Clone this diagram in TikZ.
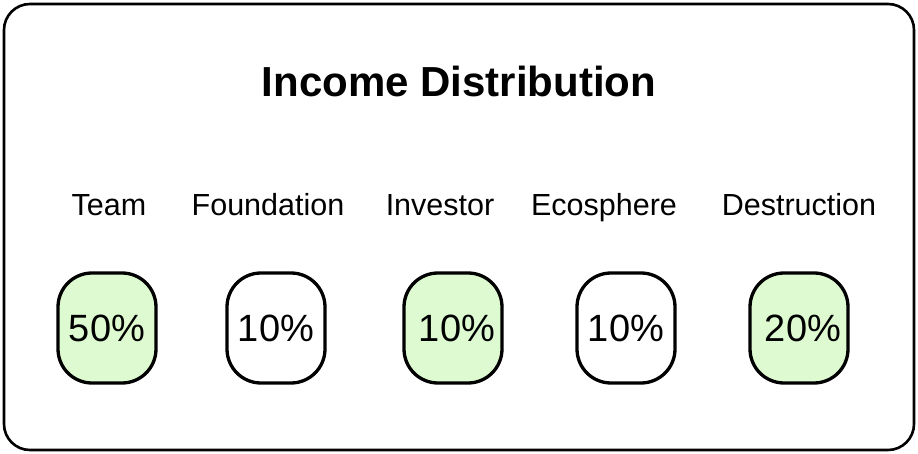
\documentclass[tikz,border=0pt]{standalone}
\usepackage{fontspec}
\setmainfont{Liberation Sans}
\usetikzlibrary{positioning}
\definecolor{sharegreen}{HTML}{DDFAD1}

\tikzset{
	share/.style={draw=black,line width=3.3pt,rounded corners=34pt,
		minimum width=98pt,minimum height=110pt,inner sep=0pt,
		font=\fontsize{38}{42}\selectfont},
	greenshare/.style={share,fill=sharegreen},
	whiteshare/.style={share,fill=white},
	tag/.style={anchor=base,inner sep=0pt,font=\fontsize{30.5}{34}\selectfont},
}

\begin{document}
\begin{tikzpicture}[x=1pt,y=-1pt]
	\useasboundingbox (0,0) rectangle (918,454);

	% frame
	\draw[line width=2.6pt,rounded corners=26pt] (4,4) rectangle (914,450);

	\node[inner sep=0pt,font=\bfseries\fontsize{42}{46}\selectfont] (title) at (459,81) {Income Distribution};

	% shares
	\node[greenshare] (team) at (107,328) {50\%};
	\node[whiteshare] (found) at (276,328) {10\%};
	\node[greenshare] (inv) at (453,328) {\hspace*{8pt}10\%};
	\node[whiteshare] (eco) at (626,328) {10\%};
	\node[greenshare] (destr) at (799,328) {\hspace*{8pt}20\%};

	% names
	\node[tag] (teamname) at (109,216) {Team};
	\node[tag] (foundname) at (268,216) {Foundation};
	\node[tag] (invname) at (440,216) {Investor};
	\node[tag] (econame) at (604,216) {Ecosphere};
	\node[tag] (destrname) at (799,216) {Destruction};
\end{tikzpicture}
\end{document}
